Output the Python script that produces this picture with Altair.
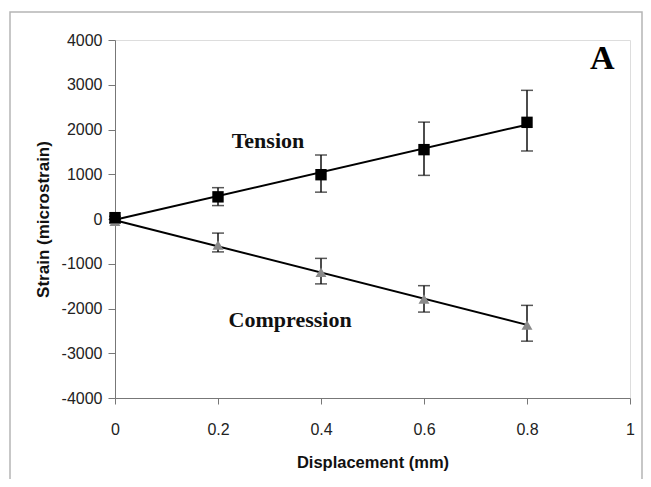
import altair as alt
import pandas as pd

# ---- data ----
displacement = [0.0, 0.2, 0.4, 0.6, 0.8]
tension_mean = [30, 495, 990, 1550, 2160]
tension_lo = [0, 300, 600, 975, 1520]
tension_hi = [60, 700, 1430, 2165, 2875]
compression_mean = [-50, -580, -1190, -1790, -2370]
compression_lo = [-90, -735, -1450, -2080, -2730]
compression_hi = [-10, -315, -880, -1490, -1930]

x_ticks = [0, 0.2, 0.4, 0.6, 0.8, 1]
y_ticks = [-4000, -3000, -2000, -1000, 0, 1000, 2000, 3000, 4000]

ann_text = ["Tension", "Compression"]
ann_x = [0.297, 0.34]
ann_y = [1590, -2410]

rows = []
for i, d in enumerate(displacement):
    rows.append(dict(disp=d, series="Tension", mean=tension_mean[i], lo=tension_lo[i], hi=tension_hi[i]))
for i, d in enumerate(displacement):
    rows.append(dict(disp=d, series="Compression", mean=compression_mean[i], lo=compression_lo[i], hi=compression_hi[i]))
df = pd.DataFrame(rows)
ten = df[df.series == "Tension"]
com = df[df.series == "Compression"]

xscale = alt.Scale(domain=[0, 1], nice=False, zero=False)
yscale = alt.Scale(domain=[-4000, 4000], nice=False)

xax = alt.Axis(values=x_ticks, title="Displacement (mm)", grid=False, labelFontSize=16,
               titleFontSize=16.5, titleFontWeight="bold", labelFont="Liberation Sans",
               titleFont="Liberation Sans", tickSize=6, labelPadding=17, titlePadding=17,
               domainColor="#777777", tickColor="#777777", labelColor="#222222",
               titleColor="#111111", labelExpr="'' + datum.value", labelFlush=False)
yax = alt.Axis(values=y_ticks, title="Strain (microstrain)", grid=False, labelFontSize=16,
               titleFontSize=17, titleFontWeight="bold", labelFont="Liberation Sans",
               titleFont="Liberation Sans", tickSize=7, labelPadding=6, titlePadding=9,
               domainColor="#777777", tickColor="#777777", labelColor="#222222",
               titleColor="#111111", labelExpr="'' + datum.value")

frame = alt.Chart(pd.DataFrame({"k": [1]})).mark_rect(
    fill=None, stroke="#b5b5b5", strokeWidth=1.5
).encode(x=alt.value(-105), x2=alt.value(527), y=alt.value(-28), y2=alt.value(470))

def series_layers(sub, color, shape, size):
    c = alt.Chart(sub)
    err = c.mark_errorbar(ticks=alt.MarkConfig(size=12, color="#111111", strokeWidth=1.5),
                          color="#111111", thickness=1.5).encode(
        x=alt.X("disp:Q", scale=xscale, axis=xax),
        y=alt.Y("lo:Q", scale=yscale, axis=yax),
        y2="hi:Q",
    )
    reg = c.transform_regression("disp", "mean", extent=[0, 0.8]).mark_line(
        color="#000000", strokeWidth=2
    ).encode(x=alt.X("disp:Q", scale=xscale), y=alt.Y("mean:Q", scale=yscale))
    pts = c.mark_point(shape=shape, filled=True, size=size, color=color, opacity=1).encode(
        x=alt.X("disp:Q", scale=xscale), y=alt.Y("mean:Q", scale=yscale)
    )
    return [err, reg, pts]

layers = [frame]
layers += series_layers(com, "#8a8a8a", "triangle-up", 120)
layers += series_layers(ten, "#000000", "square", 130)

ann = alt.Chart(pd.DataFrame({"t": ann_text, "x": ann_x, "y": ann_y})).mark_text(
    font="Liberation Serif", fontWeight="bold", fontSize=22, color="#111111",
    baseline="alphabetic", align="center"
).encode(x=alt.X("x:Q", scale=xscale), y=alt.Y("y:Q", scale=yscale), text="t:N")

label_a = alt.Chart(pd.DataFrame({"t": ["A"], "x": [0.946], "y": [3350]})).mark_text(
    font="Liberation Serif", fontWeight="bold", fontSize=34, color="#000000",
    baseline="alphabetic", align="center"
).encode(x=alt.X("x:Q", scale=xscale), y=alt.Y("y:Q", scale=yscale), text="t:N")

layers += [ann, label_a]

chart = alt.layer(*layers).properties(
    width=515, height=358,
    autosize=alt.AutoSizeParams(type="none"),
    padding={"left": 107, "top": 32, "right": 13, "bottom": 81},
).configure_view(stroke=None).configure(background="white")

chart.save("out.html", embed_options={"renderer": "svg", "actions": False})
